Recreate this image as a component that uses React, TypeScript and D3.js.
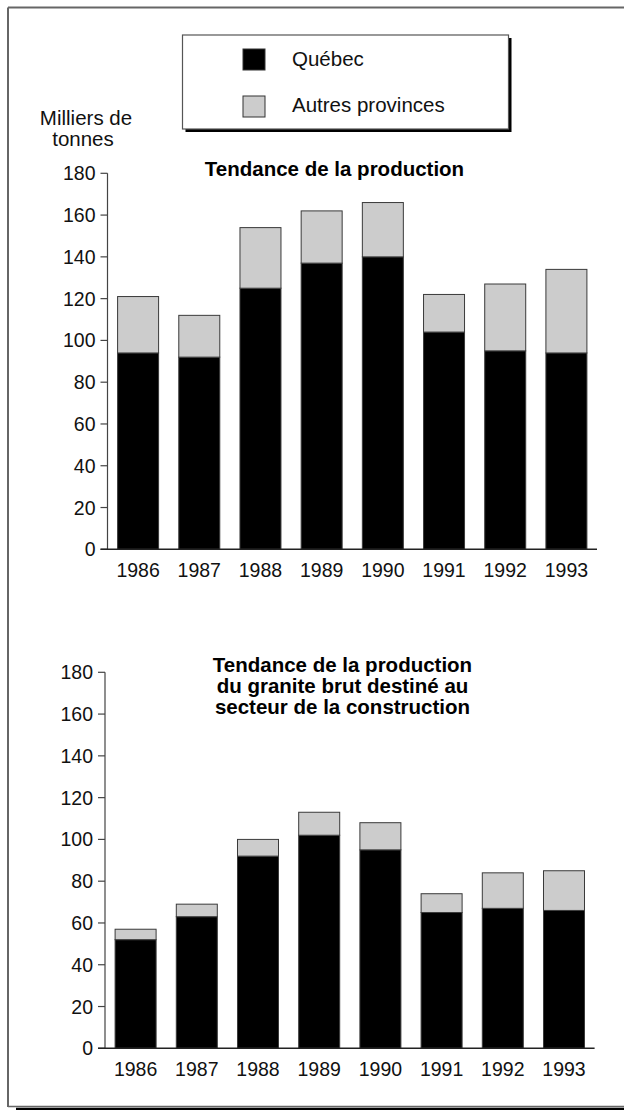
import * as d3 from "d3";

const years = ["1986", "1987", "1988", "1989", "1990", "1991", "1992", "1993"];

// Tendance de la production (milliers de tonnes)
const prodQuebec = [94, 92, 125, 137, 140, 104, 95, 94];
const prodAutres = [27, 20, 29, 25, 26, 18, 32, 40];

// Granite brut destiné au secteur de la construction
const constrQuebec = [52, 63, 92, 102, 95, 65, 67, 66];
const constrAutres = [5, 6, 8, 11, 13, 9, 17, 19];

const yTicks = [0, 20, 40, 60, 80, 100, 120, 140, 160, 180];
const seriesNames = ["Québec", "Autres provinces"];
const seriesColors = ["#000000", "#cccccc"];

const FONT = "'Liberation Sans', Arial, Helvetica, sans-serif";

interface PanelProps {
  quebec: number[];
  autres: number[];
  left: number;
  right: number;
  top: number;
  bottom: number;
  titleLines: string[];
  titleX: number;
  titleY: number;
}

function Panel({ quebec, autres, left, right, top, bottom, titleLines, titleX, titleY }: PanelProps) {
  const rows = years.map((y, i) => ({ year: y, q: quebec[i], a: autres[i] }));
  const stack = d3.stack<{ year: string; q: number; a: number }>().keys(["q", "a"]);
  const layers = stack(rows);

  const x = d3.scaleBand<string>()
    .domain(years)
    .range([left, right])
    .paddingInner(0.33)
    .paddingOuter(0.165);
  const y = d3.scaleLinear().domain([0, 180]).range([bottom, top]);

  return (
    <g>
      {layers.map((layer, li) => (
        <g key={li}>
          {layer.map((d, i) => (
            <rect
              key={i}
              x={x(years[i])}
              y={y(d[1])}
              width={x.bandwidth()}
              height={y(d[0]) - y(d[1])}
              fill={seriesColors[li]}
              stroke="#3a3a3a"
              strokeWidth={1}
            />
          ))}
        </g>
      ))}
      {/* y axis */}
      <line x1={left} x2={left} y1={y(180)} y2={y(0)} stroke="#444" strokeWidth={1.2} />
      {yTicks.map((t) => (
        <g key={t}>
          <line x1={left - 7} x2={left} y1={y(t)} y2={y(t)} stroke="#444" strokeWidth={1.2} />
          <text
            x={left - 12}
            y={y(t)}
            dy="0.36em"
            textAnchor="end"
            fontSize={19.5}
            fontFamily={FONT}
            fill="#111"
          >
            {t}
          </text>
        </g>
      ))}
      {/* x axis */}
      <line x1={left - 7} x2={right} y1={y(0)} y2={y(0)} stroke="#222" strokeWidth={1.5} />
      {years.map((yr) => (
        <text
          key={yr}
          x={(x(yr) as number) + x.bandwidth() / 2}
          y={bottom + 28}
          textAnchor="middle"
          fontSize={19.5}
          fontFamily={FONT}
          fill="#111"
        >
          {yr}
        </text>
      ))}
      {titleLines.map((line, i) => (
        <text
          key={i}
          x={titleX}
          y={titleY + i * 21}
          textAnchor="middle"
          fontSize={20.5}
          fontWeight="bold"
          fontFamily={FONT}
          fill="#000"
        >
          {line}
        </text>
      ))}
    </g>
  );
}

export default function App() {
  return (
    <svg
      width={624}
      height={1110}
      style={{ position: "absolute", left: 0, top: 0, background: "#fff" }}
    >
      <rect x={0} y={0} width={624} height={1110} fill="#fff" />
      {/* frame */}
      <line x1={8} x2={624} y1={7.5} y2={7.5} stroke="#666" strokeWidth={2} />
      <line x1={8} x2={8} y1={7.5} y2={1107} stroke="#666" strokeWidth={2} />
      <line x1={8} x2={624} y1={1106.5} y2={1106.5} stroke="#666" strokeWidth={1.5} />
      <line x1={16} x2={624} y1={1109} y2={1109} stroke="#000" strokeWidth={2.5} />

      {/* legend */}
      <rect x={185.5} y={38} width={326} height={94} fill="#000" />
      <rect x={182.5} y={35} width={326} height={94} fill="#fff" stroke="#555" strokeWidth={1.2} />
      {seriesNames.map((name, i) => (
        <g key={name}>
          <rect
            x={243}
            y={49 + i * 47}
            width={22}
            height={21}
            fill={seriesColors[i]}
            stroke="#333"
            strokeWidth={1}
          />
          <text x={292} y={66 + i * 46} fontSize={20.5} fontFamily={FONT} fill="#111">
            {name}
          </text>
        </g>
      ))}

      {/* y axis unit */}
      <text x={86} y={125} textAnchor="middle" fontSize={20.5} fontFamily={FONT} fill="#111">
        Milliers de
      </text>
      <text x={83} y={146} textAnchor="middle" fontSize={20.5} fontFamily={FONT} fill="#111">
        tonnes
      </text>

      <Panel
        quebec={prodQuebec}
        autres={prodAutres}
        left={107.5}
        right={597}
        top={173.3}
        bottom={549.3}
        titleLines={["Tendance de la production"]}
        titleX={334.5}
        titleY={176}
      />
      <Panel
        quebec={constrQuebec}
        autres={constrAutres}
        left={105}
        right={594.6}
        top={672.3}
        bottom={1048.3}
        titleLines={[
          "Tendance de la production",
          "du granite brut destiné au",
          "secteur de la construction",
        ]}
        titleX={342.5}
        titleY={672}
      />
    </svg>
  );
}
